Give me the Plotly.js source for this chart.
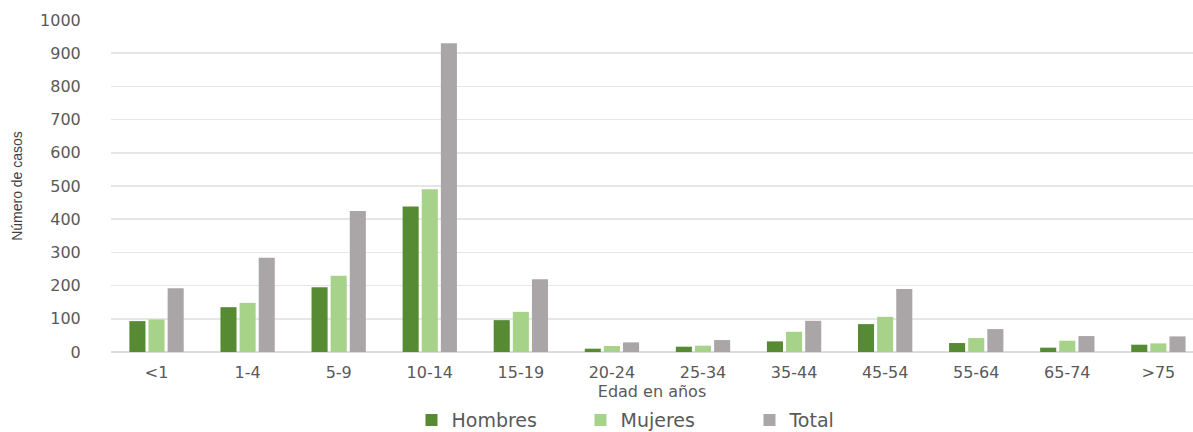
<!DOCTYPE html>
<html><head><meta charset="utf-8">
<script src="https://cdn.plot.ly/plotly-3.0.1.min.js"></script>
<style>html,body{margin:0;padding:0;background:#fff;overflow:hidden}</style>
</head><body>
<div id="chart" style="width:1193px;height:432px"></div>
<script>
const categories = ["<1","1-4","5-9","10-14","15-19","20-24","25-34","35-44","45-54","55-64","65-74",">75"];
const hombres = [93,135,195,438,96,10,16,32,84,27,13,22];
const mujeres = [98,148,230,490,121,18,19,61,106,42,34,26];
const total = [192,284,425,930,219,29,36,94,190,69,48,47];
const seriesNames = ["Hombres","Mujeres","Total"];
const yTicks = [0,100,200,300,400,500,600,700,800,900,1000];

const colors = ["#568b33","#a6d28a","#aaa6a7"];
const vals = [hombres, mujeres, total];
const traces = vals.map((v,i)=>({
  type:'bar', x:categories, y:v, name:seriesNames[i],
  marker:{color:colors[i]}, hoverinfo:'skip'
}));

const layout = {
  width:1193, height:432,
  margin:{l:111, r:0, t:20, b:80, autoexpand:false},
  paper_bgcolor:'#fff', plot_bgcolor:'#fff',
  barmode:'group', bargap:0.37, bargroupgap:0.16,
  showlegend:true,
  legend:{orientation:'h', x:0.512, xanchor:'center', y:-0.205, yanchor:'middle',
    font:{family:'DejaVu Sans', size:19, color:'#595959'}, itemwidth:30, entrywidth:124, traceorder:'normal'},
  xaxis:{type:'category', range:[-0.5, 11.38], showgrid:false, zeroline:false, showline:false,
    ticks:'outside', ticklen:6, tickcolor:'rgba(0,0,0,0)',
    tickfont:{family:'DejaVu Sans', size:16, color:'#595959'},
    title:{text:'Edad en años', font:{family:'DejaVu Sans', size:16, color:'#595959'}, standoff:2}},
  yaxis:{range:[0,1000], tickvals:yTicks, ticktext:yTicks.map(String), showgrid:true, gridcolor:'#e6e6e6', gridwidth:1.5,
    zeroline:true, zerolinecolor:'#dcdcdc', zerolinewidth:1.5, showline:false,
    ticks:'outside', ticklen:26, tickcolor:'rgba(0,0,0,0)',
    tickfont:{family:'DejaVu Sans', size:16, color:'#595959'},
    title:{text:'Número de casos', font:{family:'Liberation Sans Narrow, Liberation Sans', size:14, color:'#404040'}, standoff:14}},
  font:{family:'DejaVu Sans'}
};
Plotly.newPlot('chart', traces, layout, {displayModeBar:false, staticPlot:true});
</script>
</body></html>
